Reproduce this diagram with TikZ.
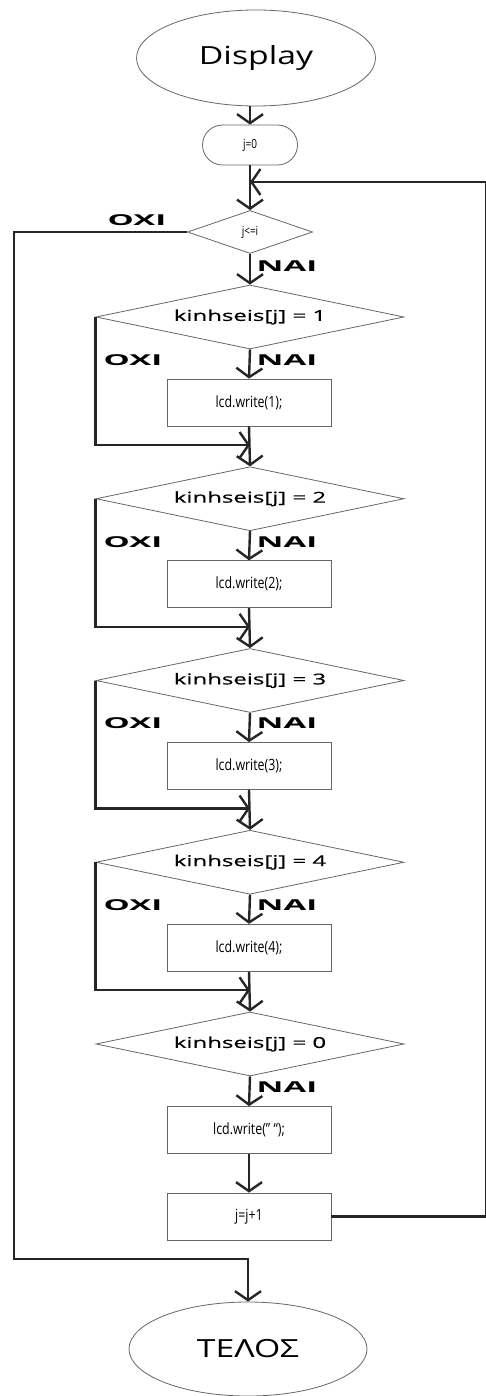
\documentclass[tikz,border=0pt]{standalone}
\usepackage{fontspec}
\usetikzlibrary{shapes.geometric,shapes.misc,arrows.meta}
\newfontfamily\titlefont[FakeStretch=1.35]{Open Sans}
\newfontfamily\condfont[FakeStretch=1.6,FakeBold=0.6]{Open Sans}
\newfontfamily\boxfont[FakeStretch=0.8]{Open Sans}
\newfontfamily\labfont[FakeStretch=2.2]{Open Sans}
\tikzset{
  shapeline/.style={draw=black!60, line width=0.8pt},
  term/.style={ellipse, shapeline, inner sep=0pt,
    font=\titlefont\fontsize{25}{30}\selectfont},
  startbox/.style={rounded rectangle, shapeline, inner sep=0pt,
    minimum width=95pt, minimum height=40pt,
    font=\boxfont\fontsize{12.5}{15}\selectfont},
  test/.style={diamond, shapeline, inner sep=0pt, aspect=4.8},
  bigtest/.style={test, minimum width=308pt, minimum height=64pt,
    font=\condfont\fontsize{15}{18}\selectfont},
  action/.style={rectangle, shapeline, inner sep=0pt,
    minimum width=164pt, minimum height=47pt,
    font=\boxfont\fontsize{15.5}{18}\selectfont},
  lab/.style={inner sep=0pt, font=\labfont\bfseries\fontsize{15}{17}\selectfont},
  link/.style={draw=black!85, line width=2.4pt},
  flow/.style={link, -{Straight Barb[length=9pt,width=26pt]}},
}
\begin{document}
\begin{tikzpicture}[x=1pt,y=-1pt]
\useasboundingbox (0,0) rectangle (486,1396);

% start, initialisation and loop test
\node[term, minimum width=239pt, minimum height=96pt] (disp) at (256,58) {Display};
\node[startbox] (init) at (250,145) {j=0};
\node[test, minimum width=125pt, minimum height=43pt,
      font=\boxfont\fontsize{12.5}{15}\selectfont] (cond) at (250,232) {j<=i};
\node[lab] (condno) at (137,220) {ΟΧΙ};
\node[lab] (condyes) at (287,266) {ΝΑΙ};

% the five comparisons of kinhseis[j]
\foreach \k/\v in {1/1,2/2,3/3,4/4,5/0}{
  \pgfmathsetmacro\yc{317+(\k-1)*181.75}
  \node[bigtest] (d\k) at (250,\yc) {kinhseis[j] = \v};
  \node[lab] (yes\k) at (287,\yc+43) {ΝΑΙ};
}
\foreach \k/\v in {1/1,2/2,3/3,4/4}{
  \pgfmathsetmacro\yc{317+(\k-1)*181.75}
  \node[action] (b\k) at (249,\yc+85.5) {lcd.write(\v);};
  \node[lab] (no\k) at (133,\yc+43) {ΟΧΙ};
  \coordinate (m\k) at (250,\yc+128);
}
\node[action] (b5) at (249,1130) {lcd.write(” “);};
\node[action] (inc) at (249,1216.5) {j=j+1};

% end
\node[term, minimum width=238pt, minimum height=94pt] (end) at (248,1349) {ΤΕΛΟΣ};

% helper points for the outer routes
\coordinate (loopin) at (250,182);
\coordinate (rightx) at (486,0);
\coordinate (leftx) at (14,0);
\coordinate (exitmerge) at (248,1259);

% main flow
\draw[flow] (init.north |- disp.south) -- (init.north);
\draw[flow] (init.south) -- (cond.north);
\draw[flow] (cond.south) -- (d1.north);
\foreach \k/\n in {1/2,2/3,3/4,4/5}{
  \draw[flow] (d\k.south) -- (b\k.north);
  \draw[flow] (b\k.south) -- (d\n.north);
  \draw[flow] (d\k.west) |- (m\k);
}
\draw[flow] (d5.south) -- (b5.north);
\draw[flow] (b5.south) -- (inc.north);

% loop back and exit
\draw[flow] (inc.east) -- (inc.east -| rightx) |- (loopin);
\draw[flow] (cond.west) -- (cond.west -| leftx) |- (exitmerge) -- (end.north);
\end{tikzpicture}
\end{document}
